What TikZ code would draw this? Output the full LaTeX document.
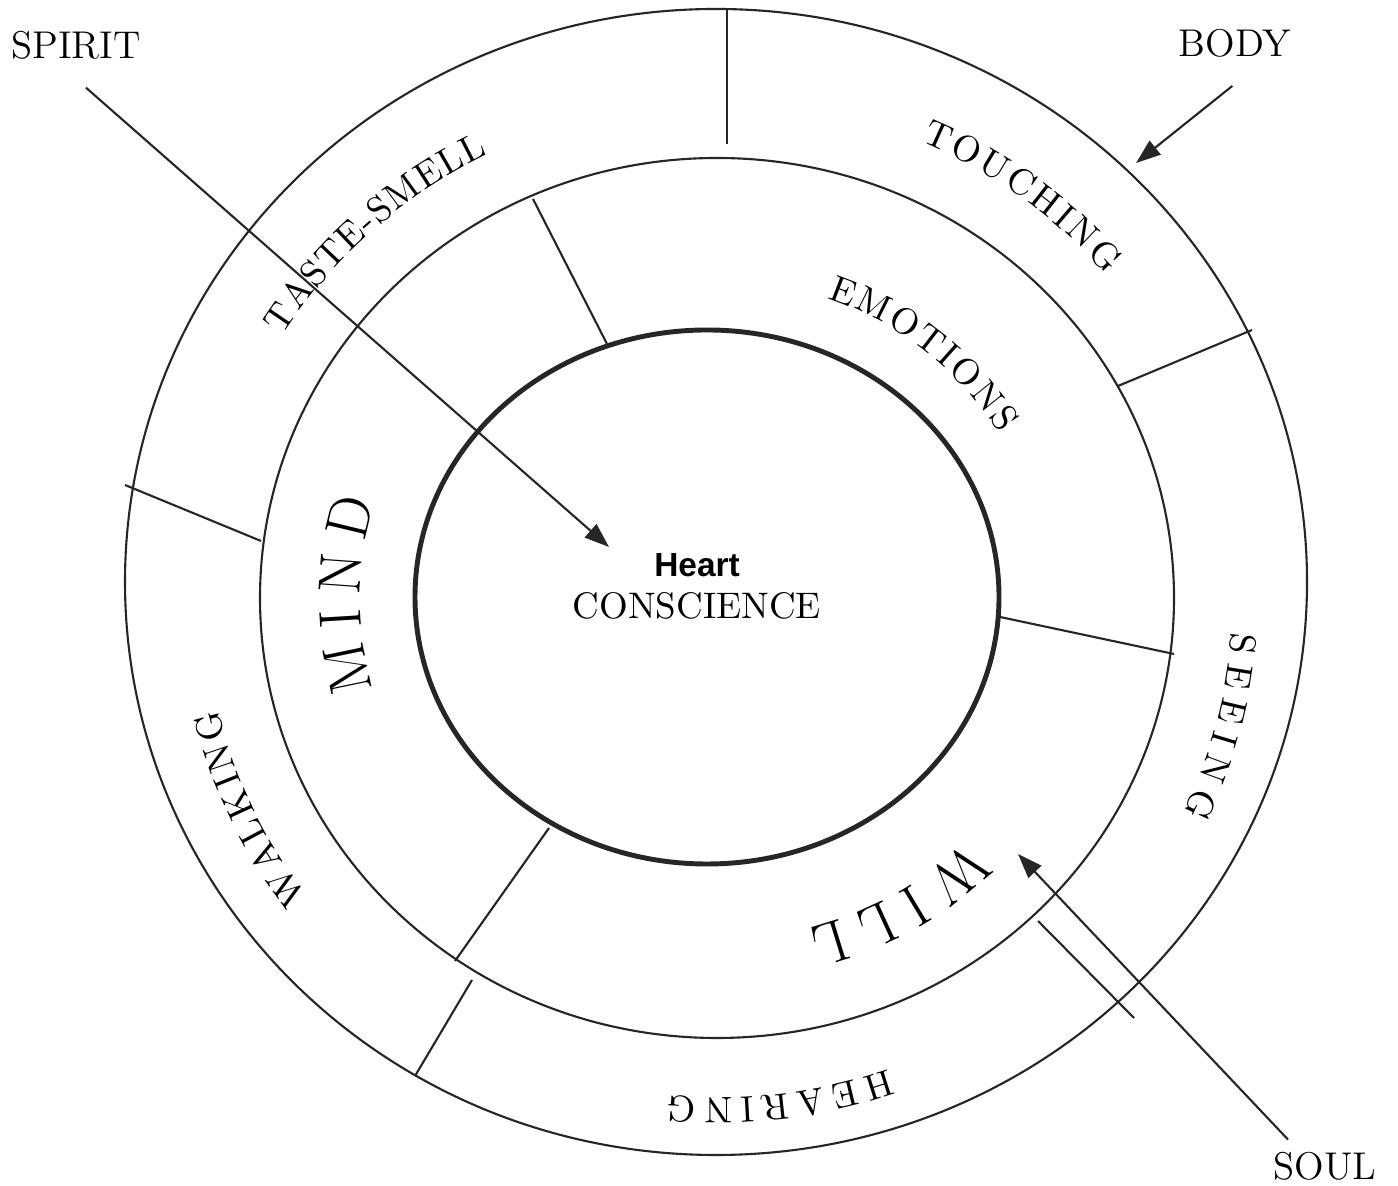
\documentclass[tikz,border=0pt]{standalone}
\usepackage{fontspec}
\newfontfamily\heartfont{Liberation Sans}
\usepackage{tikz}
\usetikzlibrary{arrows.meta, decorations.text}

\newcommand\ringfont{\fontsize{10.5}{12}\selectfont}
\newcommand\bigringfont{\fontsize{17}{20}\selectfont}

\begin{document}
\begin{tikzpicture}[
  x=0.01cm, y=0.01cm,
  every node/.style={font=\fontsize{11}{13}\selectfont},
  ring/.style={line width=0.6pt, black!85},
  corering/.style={line width=1.4pt, black!85},
  divider/.style={line width=0.6pt, black!85},
  arr/.style={-{Triangle[length=7pt, width=5pt]}, line width=0.6pt, black!85},
  ringtext/.style={decorate, decoration={text along path,
                   text align=fit to path, text={#1}}},
]
  \useasboundingbox (0,0) rectangle (1398,1186);

  % rings
  \draw[ring] (716,604) ellipse [x radius=591, y radius=573];
  \draw[ring] (717,588) ellipse [x radius=457, y radius=440];
  \draw[corering] (707,589) ellipse [x radius=292, y radius=267];

  % dividers between the sectors
  \foreach \ax/\ay/\bx/\by in {727/1177/727/1042, 1118/800/1252/856,
                               125/701/261/645, 472/206/415/110,
                               533/987/607/842, 1000/569/1174/532,
                               549/358/455/225, 1038/265/1134/168}
    \draw[divider] (\ax,\ay) -- (\bx,\by);

  \coordinate (hub) at (717,588);

  % senses on the outer ring
  \path[ringtext={|\ringfont|TASTE-SMELL}] (hub) ++(148:512 and 496)
       arc[start angle=148, end angle=116.5, x radius=512, y radius=496];
  \path[ringtext={|\ringfont|TOUCHING}] (hub) ++(66.5:512 and 498)
       arc[start angle=66.5, end angle=40.5, x radius=512, y radius=498];
  \path[ringtext={|\ringfont|SEEING}] (hub) ++(-4:516 and 498)
       arc[start angle=-4, end angle=-25.5, x radius=516, y radius=498];
  \path[ringtext={|\ringfont|HEARING}] (hub) ++(-70.5:514 and 500)
       arc[start angle=-70.5, end angle=-95.5, x radius=514, y radius=500];
  \path[ringtext={|\ringfont|WALKING}] (hub) ++(217:512 and 496)
       arc[start angle=217, end angle=193, x radius=512, y radius=496];

  % soul on the middle ring
  \path[ringtext={|\ringfont|EMOTIONS}] (hub) ++(70.5:330 and 318)
       arc[start angle=70.5, end angle=31, x radius=330, y radius=318];
  \path[ringtext={|\bigringfont|MIND}] (hub) ++(195.5:357 and 340)
       arc[start angle=195.5, end angle=163.5, x radius=357, y radius=340];
  \path[ringtext={|\bigringfont|WILL}] (hub) ++(-45:355 and 342)
       arc[start angle=-45, end angle=-75, x radius=355, y radius=342];

  % centre
  \node[font=\heartfont\fontsize{9.5}{11}\selectfont\bfseries] (heart)
        at (697,621) {Heart};
  \node[font=\fontsize{10.5}{12}\selectfont] (conscience)
        at (697,580) {CONSCIENCE};

  % outside labels
  \node (spirit) at (76,1141) {SPIRIT};
  \node (body)   at (1235,1143) {BODY};
  \node (soul)   at (1325,20) {SOUL};

  \coordinate (spirit tip) at (609,639);
  \coordinate (body tip)   at (1136,1023);
  \coordinate (soul tip)   at (1018,332);

  \draw[arr, shorten <=7pt] ([xshift=-0.085cm]spirit.south) -- (spirit tip);
  \draw[arr, shorten <=7.5pt] ([xshift=0.18cm]body.south) -- (body tip);
  \draw[arr] ([xshift=-0.37cm]soul.north) -- (soul tip);

\end{tikzpicture}
\end{document}
